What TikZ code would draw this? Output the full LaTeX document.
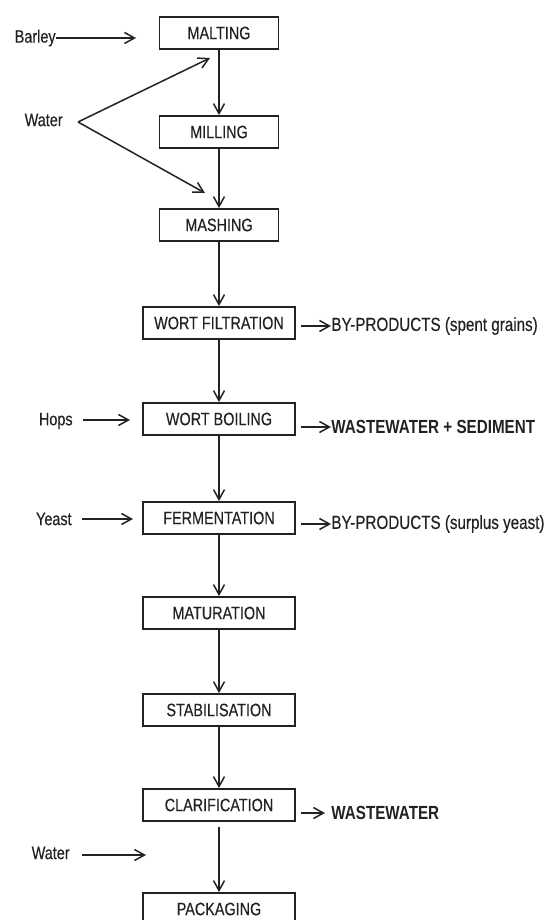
\documentclass[tikz,border=0pt]{standalone}
\usepackage{fontspec}
\setmainfont{Liberation Sans}[FakeStretch=0.8]
\newfontfamily\medfont{Liberation Sans}[FakeStretch=0.8, FakeBold=0.35]
\usetikzlibrary{arrows.meta,positioning}
\definecolor{inkgray}{HTML}{222222}

\begin{document}
\begin{tikzpicture}[x=0.5pt, y=-0.5pt,
    stage/.style={rectangle, draw=inkgray, line width=0.9pt, text=inkgray,
                  minimum width=76pt, minimum height=16pt, inner sep=0pt,
                  font=\medfont\fontsize{9}{10}\selectfont},
    small/.style={stage, minimum width=59.5pt},
    input/.style={text=inkgray, inner sep=0pt, font=\medfont\fontsize{9}{10}\selectfont},
    output/.style={text=inkgray, inner sep=0pt, anchor=west, font=\fontsize{9.5}{11}\selectfont},
    arr/.style={-{Straight Barb[length=5pt,width=5.5pt]}, line width=0.75pt, color=inkgray}
  ]
  \useasboundingbox (0,0) rectangle (543,920);

  % process chain
  \node[small] (malt) at (219,33)  {MALTING};
  \node[small] (mill) at (219,132) {MILLING};
  \node[small] (mash) at (219,225) {MASHING};
  \node[stage] (filt) at (219,323) {WORT FILTRATION};
  \node[stage] (boil) at (219,419) {WORT BOILING};
  \node[stage] (ferm) at (219,518) {FERMENTATION};
  \node[stage] (matu) at (219,613) {MATURATION};
  \node[stage] (stab) at (219,710) {STABILISATION};
  \node[stage] (clar) at (219,805) {CLARIFICATION};
  \node[stage] (pack) at (219,909) {PACKAGING};

  \draw[arr] (malt) -- (mill);
  \draw[arr] (mill) -- (mash);
  \draw[arr] (mash) -- (filt);
  \draw[arr] (filt) -- (boil);
  \draw[arr] (boil) -- (ferm);
  \draw[arr] (ferm) -- (matu);
  \draw[arr] (matu) -- (stab);
  \draw[arr] (stab) -- (clar);
  \draw[arr] ([yshift=-2.5pt]clar.south) -- (pack);

  % inputs
  \node[input, anchor=east] (barley) at (56,38)  {Barley};
  \node[input, anchor=east] (water1) at (63,120) {Water};
  \node[input, anchor=east] (hops)   at (73,421) {Hops};
  \node[input, anchor=east] (yeast)  at (72,519) {Yeast};
  \node[input, anchor=east] (water2) at (70,853) {Water};

  \coordinate (wfork) at (78,122);
  \coordinate (barleyend) at (136,38);
  \coordinate (water1a) at (210,58);
  \coordinate (water1b) at (205,193);
  \coordinate (hopsend) at (130,420);
  \coordinate (yeastend) at (133,519);
  \coordinate (water2end) at (146,855);

  \draw[arr] (barley) -- (barleyend);
  \draw[arr] (wfork) -- (water1a);
  \draw[arr] (wfork) -- (water1b);
  \draw[arr] ([xshift=5pt]hops.east |- hopsend) -- (hopsend);
  \draw[arr] ([xshift=5pt]yeast.east |- yeastend) -- (yeastend);
  \draw[arr] ([xshift=6pt]water2.east |- water2end) -- (water2end);

  % outputs
  \node[output, font=\medfont\fontsize{9.5}{11}\selectfont] (spent) at (331,326) {BY-PRODUCTS (spent grains)};
  \node[output] (sedim)   at (331,427) {\bfseries WASTEWATER + SEDIMENT};
  \node[output, font=\medfont\fontsize{9.5}{11}\selectfont] (surplus) at (331,524) {BY-PRODUCTS (surplus yeast)};
  \node[output] (waste)   at (331,813) {\bfseries WASTEWATER};

  \draw[arr] (filt.east |- spent) ++(2.5pt,0) -- (spent.west);
  \draw[arr] (boil.east |- sedim) ++(2.5pt,0) -- (sedim.west);
  \draw[arr] (ferm.east |- surplus) ++(2.5pt,0) -- (surplus.west);
  \draw[arr] (clar.east |- waste) ++(2.5pt,0) -- ([xshift=-3pt]waste.west);
\end{tikzpicture}
\end{document}
